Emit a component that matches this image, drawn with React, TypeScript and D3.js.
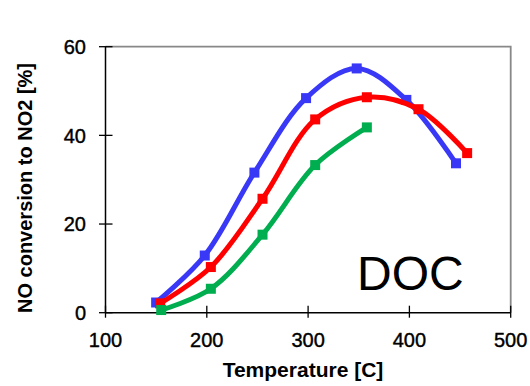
import { useEffect, useRef } from 'react';
import * as d3 from 'd3';

type Pt = [number, number];

const blueSeries: Pt[] = [[150, 2.3], [198, 12.9], [247, 31.6], [298, 48.4], [348, 55.1], [397, 48.0], [446, 33.7]];
const redSeries: Pt[] = [[154, 2.1], [204, 10.3], [255, 25.7], [307, 43.6], [358, 48.6], [409, 45.9], [457, 36.0]];
const greenSeries: Pt[] = [[155, 0.6], [204, 5.4], [255, 17.6], [307, 33.3], [358, 41.8]];
const xTicks = [100, 200, 300, 400, 500];
const yTicks = [0, 20, 40, 60];

const series = [
  { data: blueSeries, color: '#3838F6' },
  { data: redSeries, color: '#FF0000' },
  { data: greenSeries, color: '#00AD4F' },
];

export default function App() {
  const svgRef = useRef<SVGSVGElement>(null);
  const width = 530;
  const height = 386;

  useEffect(() => {
    if (!svgRef.current) return;
    const svg = d3.select(svgRef.current);
    svg.selectAll('*').remove();

    const x = d3.scaleLinear().domain([100, 500]).range([105.5, 510.7]);
    const y = d3.scaleLinear().domain([0, 60]).range([312.7, 46.7]);
    const font = 'Liberation Sans, Arial, sans-serif';

    // frame: top and right in grey
    svg.append('path')
      .attr('d', `M${x(100)},${y(60)}H${x(500)}V${y(0)}`)
      .attr('fill', 'none')
      .attr('stroke', '#888')
      .attr('stroke-width', 1.8);

    // y axis
    svg.append('line')
      .attr('x1', x(100)).attr('x2', x(100))
      .attr('y1', y(0)).attr('y2', y(60))
      .attr('stroke', '#000').attr('stroke-width', 1.5);
    svg.selectAll('.ytick')
      .data(yTicks)
      .enter()
      .append('line')
      .attr('x1', x(100) - 6.5).attr('x2', x(100) + 7)
      .attr('y1', d => y(d)).attr('y2', d => y(d))
      .attr('stroke', '#000').attr('stroke-width', 1.3);
    svg.selectAll('.ylab')
      .data(yTicks)
      .enter()
      .append('text')
      .attr('x', x(100) - 19.5)
      .attr('y', d => y(d) + 7.3)
      .attr('text-anchor', 'end')
      .attr('font-family', font)
      .attr('font-size', '20px')
      .attr('fill', '#000')
      .attr('stroke', '#000')
      .attr('stroke-width', 0.4)
      .text(d => `${d}`);

    // x axis
    svg.append('line')
      .attr('x1', x(100)).attr('x2', x(500))
      .attr('y1', y(0)).attr('y2', y(0))
      .attr('stroke', '#000').attr('stroke-width', 1.5);
    svg.selectAll('.xtick')
      .data(xTicks)
      .enter()
      .append('line')
      .attr('x1', d => x(d)).attr('x2', d => x(d))
      .attr('y1', y(0) - 7).attr('y2', y(0) + 5)
      .attr('stroke', '#000').attr('stroke-width', 1.3);
    svg.selectAll('.xlab')
      .data(xTicks)
      .enter()
      .append('text')
      .attr('x', d => x(d))
      .attr('y', 347)
      .attr('text-anchor', 'middle')
      .attr('font-family', font)
      .attr('font-size', '20px')
      .attr('fill', '#000')
      .attr('stroke', '#000')
      .attr('stroke-width', 0.4)
      .text(d => `${d}`);

    svg.append('text')
      .attr('x', 303)
      .attr('y', 377)
      .attr('text-anchor', 'middle')
      .attr('font-family', font)
      .attr('font-size', '21px')
      .attr('font-weight', 'bold')
      .text('Temperature [C]');

    svg.append('text')
      .attr('transform', 'rotate(-90)')
      .attr('x', -188)
      .attr('y', 31.5)
      .attr('text-anchor', 'middle')
      .attr('font-family', font)
      .attr('font-size', '20px')
      .attr('font-weight', 'bold')
      .text('NO conversion to NO2 [%]');

    svg.append('text')
      .attr('x', 357)
      .attr('y', 290)
      .attr('font-family', font)
      .attr('font-size', '48px')
      .attr('fill', '#000')
      .text('DOC');

    const line = d3.line<Pt>()
      .x(d => x(d[0]))
      .y(d => y(d[1]))
      .curve(d3.curveCatmullRom.alpha(0.5));

    series.forEach(s => {
      svg.append('path')
        .datum(s.data)
        .attr('fill', 'none')
        .attr('stroke', s.color)
        .attr('stroke-width', 5)
        .attr('stroke-linejoin', 'round')
        .attr('d', line);
      svg.append('g')
        .selectAll('rect')
        .data(s.data)
        .enter()
        .append('rect')
        .attr('x', d => x(d[0]) - 5)
        .attr('y', d => y(d[1]) - 5)
        .attr('width', 10)
        .attr('height', 10)
        .attr('fill', s.color);
    });
  }, []);

  return (
    <svg
      ref={svgRef}
      width={width}
      height={height}
      style={{ position: 'absolute', left: 0, top: 0, background: '#fff' }}
    />
  );
}
